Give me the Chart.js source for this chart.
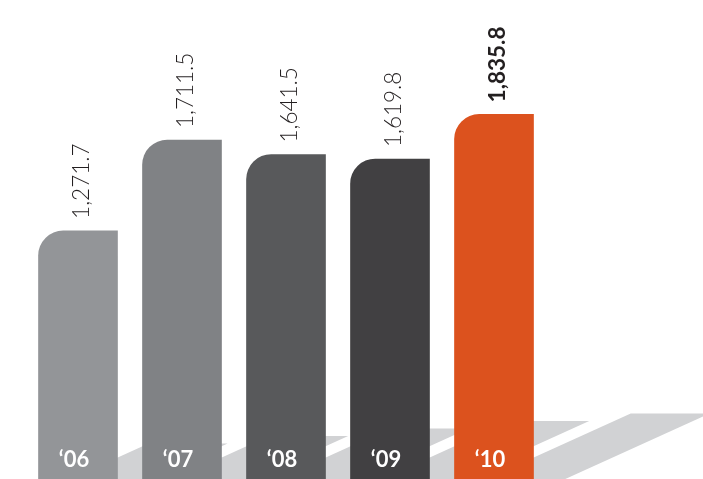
<!DOCTYPE html>
<html>
<head>
<meta charset="utf-8">
<script src="https://cdn.jsdelivr.net/npm/chart.js@4"></script>
<style>
  html, body { margin: 0; padding: 0; background: #fff; overflow: hidden; }
  canvas { display: block; }
</style>
</head>
<body>
<canvas id="rev-chart" width="703" height="479"></canvas>
<script>
// data
const years = ["\u201806", "\u201807", "\u201808", "\u201809", "\u201810"];
const values = [1271.7, 1711.5, 1641.5, 1619.8, 1835.8];
const barColors = ["#939598", "#808285", "#58595b", "#414042", "#dc521e"];

const shadowColor = "#d1d2d4";
const shadowSlope = 0.454; // rise per px to the right

const fmt = v => v.toLocaleString("en-US", { minimumFractionDigits: 1, maximumFractionDigits: 1 });

// shadows on the floor, drawn under the bars
const floorShadows = {
  id: "floorShadows",
  beforeDatasetsDraw(chart) {
    const ctx = chart.ctx;
    const meta = chart.getDatasetMeta(0);
    ctx.save();
    ctx.fillStyle = shadowColor;
    meta.data.forEach((bar, i) => {
      const L = bar.x - bar.width / 2;
      const R = bar.x + bar.width / 2;
      const B = bar.base;
      const rise = 50 + 7.5 * i;
      const run = rise / shadowSlope;
      ctx.beginPath();
      ctx.moveTo(L, B);
      ctx.lineTo(R, B);
      ctx.lineTo(R + run, B - rise);
      ctx.lineTo(L + run, B - rise);
      ctx.closePath();
      ctx.fill();
    });
    ctx.restore();
  }
};

// value labels above bars + year labels inside bars
const barLabels = {
  id: "barLabels",
  afterDatasetsDraw(chart) {
    const ctx = chart.ctx;
    const meta = chart.getDatasetMeta(0);
    const last = meta.data.length - 1;
    meta.data.forEach((bar, i) => {
      ctx.save();
      ctx.translate(bar.x + 4, bar.y - 12);
      ctx.rotate(-Math.PI / 2);
      ctx.textAlign = "left";
      ctx.textBaseline = "middle";
      ctx.fillStyle = "#231f20";
      ctx.font = (i === last ? "bold " : "300 ") + "22.5px Lato, 'Noto Sans', sans-serif";
      ctx.fillText(fmt(values[i]), 0, 0);
      ctx.restore();

      ctx.save();
      ctx.textAlign = "center";
      ctx.textBaseline = "middle";
      ctx.fillStyle = "#ffffff";
      ctx.font = "bold 22px Lato, 'Noto Sans', sans-serif";
      ctx.fillText(years[i], bar.x - 4, 460);
      ctx.restore();
    });
  }
};

new Chart(document.getElementById("rev-chart"), {
  type: "bar",
  data: {
    labels: years,
    datasets: [{
      data: values,
      backgroundColor: barColors,
      barThickness: 79,
      borderSkipped: false,
      borderRadius: { topLeft: 25, topRight: 0, bottomLeft: 0, bottomRight: 0 }
    }]
  },
  options: {
    responsive: false,
    animation: false,
    layout: { padding: { left: 26, right: 157, top: 0, bottom: 0 } },
    plugins: { legend: { display: false }, tooltip: { enabled: false } },
    scales: {
      x: { display: false },
      y: { display: false, min: 70, max: 2390 }
    }
  },
  plugins: [floorShadows, barLabels]
});
</script>
</body>
</html>
